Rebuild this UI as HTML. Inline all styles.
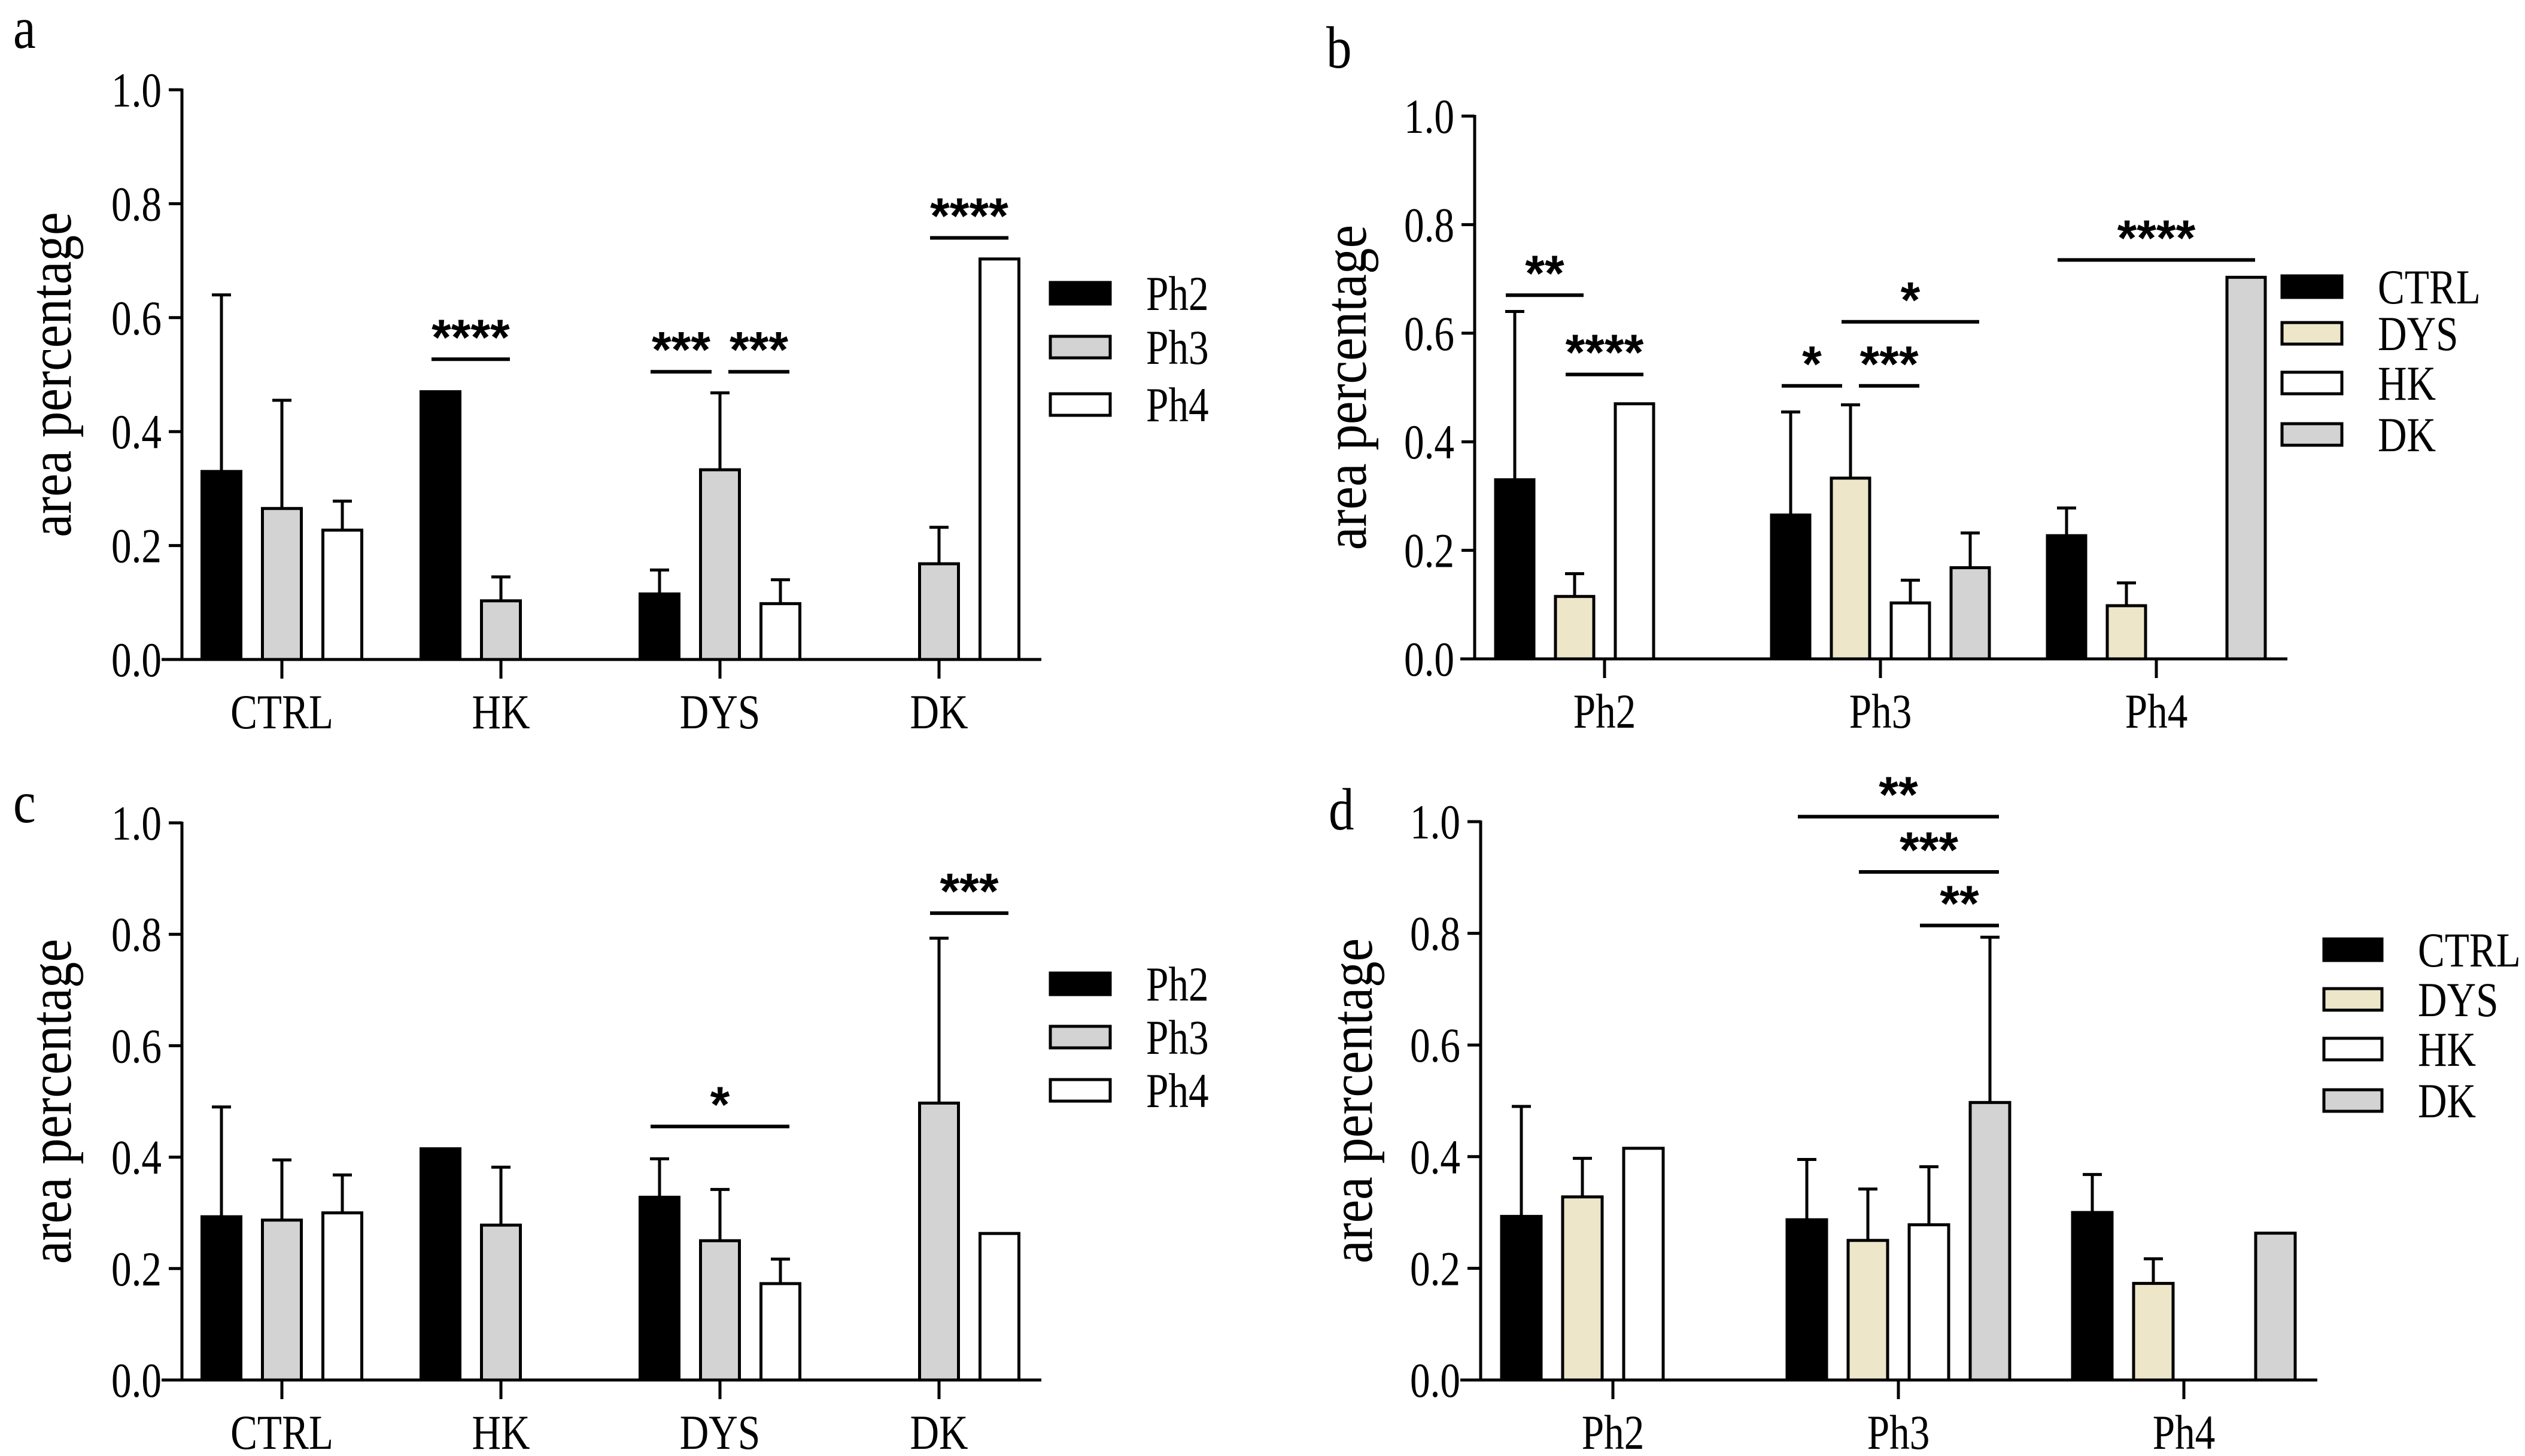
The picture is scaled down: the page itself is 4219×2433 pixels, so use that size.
<!DOCTYPE html>
<html><head><meta charset="utf-8"><style>
html,body{margin:0;padding:0;background:#fff;}
svg{display:block;}
text{font-family:"Liberation Serif",serif;fill:#000;}
.star{font-family:"Liberation Sans",sans-serif;font-weight:bold;}
</style></head><body>
<svg id="fig" width="4219" height="2433" viewBox="0 0 4219 2433" xmlns="http://www.w3.org/2000/svg"></svg>
<script>
// ---- data ----
const groupsA = ["CTRL","HK","DYS","DK"];
const phases = ["Ph2","Ph3","Ph4"];
const groupsB = ["CTRL","DYS","HK","DK"];
const yTicks = [0,0.2,0.4,0.6,0.8,1.0];
const yTickLabels = ["0.0","0.2","0.4","0.6","0.8","1.0"];
const topPh2 = [0.33,0.47,0.115,null];
const topPh3 = [0.265,0.103,0.333,0.168];
const topPh4 = [0.227,null,0.098,0.703];
const topErrPh2 = [0.64,null,0.157,null];
const topErrPh3 = [0.455,0.145,0.468,0.232];
const topErrPh4 = [0.278,null,0.14,null];
const botPh2 = [0.293,0.415,0.328,null];
const botPh3 = [0.287,0.278,0.25,0.497];
const botPh4 = [0.3,null,0.173,0.263];
const botErrPh2 = [0.49,null,0.397,null];
const botErrPh3 = [0.395,0.382,0.342,0.793];
const botErrPh4 = [0.368,null,0.217,null];
// significance: [category index, bar i, bar j, y value, label]
const sigA = [[1,0,1,0.527,"****"],[2,0,1,0.505,"***"],[2,1,2,0.505,"***"],[3,1,2,0.74,"****"]];
const sigB = [[0,0,1,0.67,"**"],[0,1,2,0.524,"****"],[1,0,1,0.503,"*"],[1,1,2,0.503,"***"],[1,1,3,0.621,"*"],[2,0,3,0.735,"****"]];
const sigC = [[2,0,2,0.455,"*"],[3,1,2,0.838,"***"]];
const sigD = [[1,0,3,1.009,"**"],[1,1,3,0.91,"***"],[1,2,3,0.814,"**"]];

const phaseFill = ["#000000","#d3d3d3","#ffffff"];
const groupFill = {CTRL:"#000000",DYS:"#ede6c9",HK:"#ffffff",DK:"#d3d3d3"};
const NS="http://www.w3.org/2000/svg";
const svg=document.getElementById('fig');
function el(tag,attrs,parent){const e=document.createElementNS(NS,tag);for(const k in attrs)e.setAttribute(k,attrs[k]);(parent||svg).appendChild(e);return e;}
function txt(parent,x,y,size,anchor,str,sx){
  const t=el('text',{x:0,y:0,'font-size':size,'text-anchor':anchor||'start',transform:`translate(${x},${y}) scale(${sx||0.82},1)`},parent);
  t.textContent=str;return t;
}

function panel(cfg){
  const g=el('g',{});
  
  
  const Y=v=>cfg.y0-(cfg.y0-cfg.y1)*v;
  const barX=(c,i,n)=>cfg.cats[c]+(i-(n-1)/2)*cfg.step;
  const L=txt(g,cfg.lx,cfg.ly,100,'start',cfg.id,0.85);
  
  
  const T=el('text',{x:0,y:0,'font-size':100,'text-anchor':'middle',transform:`translate(${cfg.tx},${(cfg.y0+cfg.y1)/2}) rotate(-90) scale(0.87,1)`},g);
  T.textContent='area percentage';
  
  
  const n=cfg.series.length;
  cfg.series.forEach((s,i)=>{
    s.vals.forEach((v,c)=>{
      if(v==null) return;
      const cx=barX(c,i,n);
      const r=el('rect',{x:cx-cfg.bw/2,y:Y(v),width:cfg.bw,height:Y(0)-Y(v),fill:s.fill,stroke:'#000','stroke-width':5},g);
      
      
      const e=s.err[c];
      if(e!=null){
        const l=el('path',{d:`M${cx} ${Y(v)}V${Y(e)}M${cx-16} ${Y(e)}H${cx+16}`,stroke:'#000','stroke-width':5,fill:'none'},g);
        
        
      }
    });
  });
  const ax=el('path',{d:`M${cfg.ax} ${cfg.y1-2}V${cfg.y0}M${cfg.xs} ${cfg.y0}H${cfg.xe}`,stroke:'#000','stroke-width':5,fill:'none'},g);
  
  
  yTicks.forEach((t,k)=>{
    el('path',{d:`M${cfg.ax-22} ${Y(t)}H${cfg.ax}`,stroke:'#000','stroke-width':5},g);
    const tl=txt(g,cfg.ax-34,Y(t)+28,82,'end',yTickLabels[k]);
    
    
  });
  cfg.catNames.forEach((c,k)=>{
    el('path',{d:`M${cfg.cats[k]} ${cfg.y0}V${cfg.y0+32}`,stroke:'#000','stroke-width':5},g);
    const cl=txt(g,cfg.cats[k],cfg.y0+115,82,'middle',c);
    
    
  });
  cfg.sig.forEach(s=>{
    let x1=barX(s[0],s[1],n)-15,x2=barX(s[0],s[2],n)+15;
    cfg.sig.forEach(o=>{
      if(o===s||o[0]!==s[0]||o[3]!==s[3])return;
      if(o[1]===s[2]) x2=barX(s[0],s[2],n)-14;
      if(o[2]===s[1]) x1=barX(s[0],s[1],n)+14;
    });
    const y=Y(s[3]);
    const sl=el('path',{d:`M${x1} ${y}H${x2}`,stroke:'#000','stroke-width':6},g);
    
    
    const st=el('text',{x:(x1+x2)/2,y:y-8,'font-size':84,'text-anchor':'middle','class':'star'},g);
    st.textContent=s[4];
    
    
  });
  cfg.series.forEach((s,i)=>{
    const ly=cfg.legY[i];
    const lb=el('rect',{x:cfg.legX,y:ly-18,width:cfg.legW,height:36,fill:s.fill,stroke:'#000','stroke-width':5},g);
    
    
    const lt=txt(g,cfg.legX+cfg.legW+60,ly+28,82,'start',s.name);
    
    
  });
}
function byGroup(p2,p3,p4,gi){return [p2[gi],p3[gi],p4[gi]];}
const idx={CTRL:0,HK:1,DYS:2,DK:3};

panel({id:'a',lx:22,ly:80,tx:118,ax:304,xs:270,xe:1740,y0:1102,y1:150,
  cats:[471,837,1203,1569],catNames:groupsA,step:101,bw:65,
  series:[{name:'Ph2',vals:topPh2,err:topErrPh2,fill:phaseFill[0]},{name:'Ph3',vals:topPh3,err:topErrPh3,fill:phaseFill[1]},{name:'Ph4',vals:topPh4,err:topErrPh4,fill:phaseFill[2]}],
  sig:sigA,legX:1755,legW:100,legY:[490,580,676]});
panel({id:'b',lx:2216,ly:113,tx:2282,ax:2464,xs:2440,xe:3822,y0:1101,y1:194,
  cats:[2681,3142,3603],catNames:phases,step:100,bw:64,
  series:groupsB.map(gn=>({name:gn,vals:byGroup(topPh2,topPh3,topPh4,idx[gn]),err:byGroup(topErrPh2,topErrPh3,topErrPh4,idx[gn]),fill:groupFill[gn]})),
  sig:sigB,legX:3813,legW:100,legY:[479,557,640,726]});
panel({id:'c',lx:22,ly:1374,tx:118,ax:304,xs:270,xe:1740,y0:2306,y1:1375,
  cats:[471,837,1203,1569],catNames:groupsA,step:101,bw:65,
  series:[{name:'Ph2',vals:botPh2,err:botErrPh2,fill:phaseFill[0]},{name:'Ph3',vals:botPh3,err:botErrPh3,fill:phaseFill[1]},{name:'Ph4',vals:botPh4,err:botErrPh4,fill:phaseFill[2]}],
  sig:sigC,legX:1755,legW:100,legY:[1644,1733,1822]});
panel({id:'d',lx:2220,ly:1386,tx:2292,ax:2474,xs:2440,xe:3872,y0:2306,y1:1373,
  cats:[2695,3172,3649],catNames:phases,step:102,bw:66,
  series:groupsB.map(gn=>({name:gn,vals:byGroup(botPh2,botPh3,botPh4,idx[gn]),err:byGroup(botErrPh2,botErrPh3,botErrPh4,idx[gn]),fill:groupFill[gn]})),
  sig:sigD,legX:3883,legW:97,legY:[1587,1670,1753,1839]});
</script>
</body></html>
